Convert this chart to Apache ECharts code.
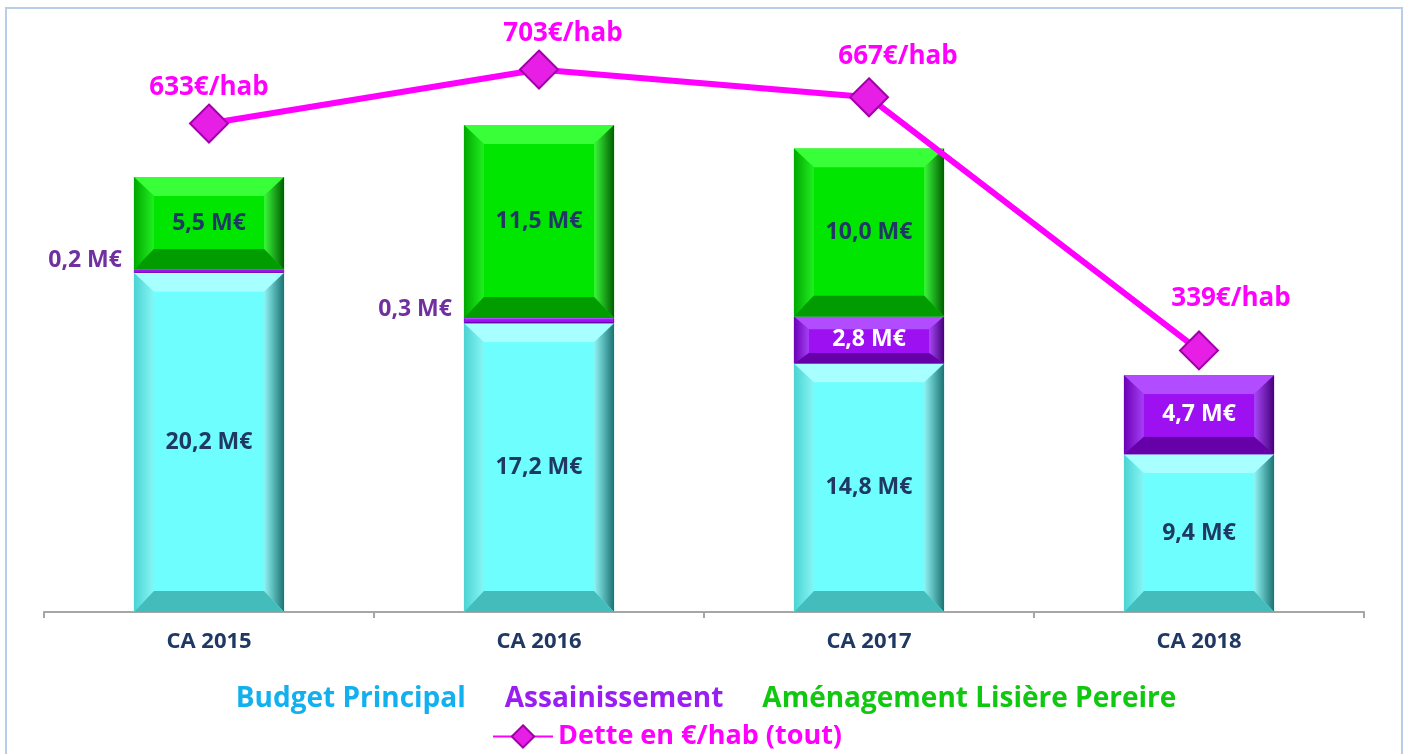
<!DOCTYPE html>
<html>
<head>
<meta charset="utf-8">
<script src="https://cdn.jsdelivr.net/npm/echarts@6/dist/echarts.min.js"></script>
<style>
html,body{margin:0;padding:0;background:#fff;}
#c{width:1407px;height:754px;}
</style>
</head>
<body>
<div id="c"></div>
<script>
// ---- data ----
const categories = ['CA 2015', 'CA 2016', 'CA 2017', 'CA 2018'];
const budgetPrincipal = [20.2, 17.2, 14.8, 9.4];
const assainissement = [0.2, 0.3, 2.8, 4.7];
const amenagement = [5.5, 11.5, 10.0, 0];
const detteParHab = [633, 703, 667, 339];
const seriesNames = ['Budget Principal', 'Assainissement', 'Aménagement Lisière Pereire', 'Dette en €/hab (tout)'];

// ---- styles ----
const FONT = '"Open Sans", "Noto Sans", sans-serif';
const NAVY = '#1f3864';
const palettes = {
  cyan:   {main:'#6ffefe', top:'#a8ffff', left:['#4cd2d2','#86f6f6'], right:['#8ff4f4','#1c7272'], bottom:'#44bcbc', label:NAVY, legend:'#12b0ef'},
  purple: {main:'#9c10f2', top:'#b14cff', left:['#6c00b4','#a440f6'], right:['#a848f8','#46007a'], bottom:'#6600a8', label:'#ffffff', legend:'#9a1df2'},
  green:  {main:'#00e600', top:'#38ff38', left:['#00a800','#22ee22'], right:['#3cf83c','#005e00'], bottom:'#009c00', label:NAVY, legend:'#11c811'}
};

function fmt(v){ return v.toFixed(1).replace('.', ',') + ' M€'; }

function buildStackData(values, below){
  return values.map((v, i) => {
    const base = below.reduce((s, arr) => s + arr[i], 0);
    return [i, base, base + v, v];
  });
}

function bevelRender(pal){
  return function(params, api){
    const v = api.value(3);
    if (!v) return null;
    const idx = api.value(0);
    const pBase = api.coord([idx, api.value(1)]);
    const pTop = api.coord([idx, api.value(2)]);
    const bw = api.size([1, 0])[0] * 0.455;
    const x0 = pBase[0] - bw / 2, x1 = x0 + bw;
    const y0 = pTop[1], y1 = pBase[1];
    const h = y1 - y0;
    const bs = Math.min(20, h * 0.32);
    const bt = Math.min(19, h * 0.28);
    const bb = Math.min(21, h * 0.22);
    const ix0 = x0 + bs, ix1 = x1 - bs, iy0 = y0 + bt, iy1 = y1 - bb;
    const children = [
      {type:'rect', shape:{x:x0, y:y0, width:bw, height:h}, style:{fill:pal.main}},
      {type:'polygon', shape:{points:[[x0,y0],[x1,y0],[ix1,iy0],[ix0,iy0]]}, style:{fill:pal.top}},
      {type:'polygon', shape:{points:[[x0,y0],[ix0,iy0],[ix0,iy1],[x0,y1]]},
        style:{fill:{type:'linear',x:0,y:0,x2:1,y2:0,colorStops:[{offset:0,color:pal.left[0]},{offset:1,color:pal.left[1]}]}}},
      {type:'polygon', shape:{points:[[x1,y0],[x1,y1],[ix1,iy1],[ix1,iy0]]},
        style:{fill:{type:'linear',x:0,y:0,x2:1,y2:0,colorStops:[{offset:0,color:pal.right[0]},{offset:1,color:pal.right[1]}]}}},
      {type:'polygon', shape:{points:[[x0,y1],[ix0,iy1],[ix1,iy1],[x1,y1]]}, style:{fill:pal.bottom}},
      {type:'rect', shape:{x:ix0, y:iy0, width:Math.max(0, ix1-ix0), height:Math.max(0, iy1-iy0)}, style:{fill:pal.main}}
    ];
    if (v >= 1) {
      children.push({type:'text', style:{text:fmt(v), x:pBase[0], y:(y0+y1)/2, align:'center', verticalAlign:'middle',
        fill:pal.label, font:'bold 23px ' + FONT}});
    } else {
      children.push({type:'text', style:{text:fmt(v), x:x0 - 12, y:y0 - 9, align:'right', verticalAlign:'middle',
        fill:'#7030a0', font:'bold 23px ' + FONT}});
    }
    return {type:'group', children};
  };
}

const lineLabelOffsets = [[0,0],[24,0],[29,-5],[32,-16]];

const chart = echarts.init(document.getElementById('c'));
chart.setOption({
  animation:false,
  graphic:[{type:'rect', shape:{x:6, y:8, width:1396, height:760}, style:{fill:'none', stroke:'#b8cde8', lineWidth:2}, silent:true}],
  grid:{left:44, right:43, top:41, bottom:142},
  legend:[
    {top:680, left:'center', itemWidth:0, itemGap:34, selectedMode:false,
     data:[
       {name:seriesNames[0], icon:'none', textStyle:{color:palettes.cyan.legend}},
       {name:seriesNames[1], icon:'none', textStyle:{color:palettes.purple.legend}},
       {name:seriesNames[2], icon:'none', textStyle:{color:palettes.green.legend}}
     ],
     textStyle:{fontFamily:FONT, fontWeight:'bold', fontSize:28}},
    {top:718, left:487, itemWidth:60, itemHeight:28, itemGap:4, selectedMode:false,
     data:[{name:seriesNames[3], textStyle:{color:'#ff00ff'}}],
     textStyle:{fontFamily:FONT, fontWeight:'bold', fontSize:27}}
  ],
  xAxis:{type:'category', data:categories,
    axisLine:{lineStyle:{color:'#a6a6a6', width:2}},
    axisTick:{show:true, length:6, lineStyle:{color:'#a6a6a6', width:2}},
    axisLabel:{color:NAVY, fontFamily:FONT, fontWeight:'bold', fontSize:22, margin:19}},
  yAxis:[
    {type:'value', min:0, max:34, show:false, splitLine:{show:false}},
    {type:'value', min:0, max:740, show:false, splitLine:{show:false}}
  ],
  series:[
    {name:seriesNames[0], type:'custom', renderItem:bevelRender(palettes.cyan), itemStyle:{color:palettes.cyan.main},
     encode:{x:0, y:[1,2]}, data:buildStackData(budgetPrincipal, [])},
    {name:seriesNames[1], type:'custom', renderItem:bevelRender(palettes.purple), itemStyle:{color:palettes.purple.main},
     encode:{x:0, y:[1,2]}, data:buildStackData(assainissement, [budgetPrincipal])},
    {name:seriesNames[2], type:'custom', renderItem:bevelRender(palettes.green), itemStyle:{color:palettes.green.main},
     encode:{x:0, y:[1,2]}, data:buildStackData(amenagement, [budgetPrincipal, assainissement])},
    {name:seriesNames[3], type:'line', yAxisIndex:1, z:10,
     data:detteParHab.map((v, i) => ({value:v, label:{offset:lineLabelOffsets[i]}})),
     lineStyle:{color:'#ff00ff', width:6},
     symbol:'diamond', symbolSize:38,
     itemStyle:{color:'#e61ee6', borderColor:'#a000a6', borderWidth:2},
     label:{show:true, position:'top', distance:3, color:'#ff00ff', fontFamily:FONT, fontWeight:'bold', fontSize:26,
       formatter:(p) => p.value + '€/hab'}}
  ]
});
</script>
</body>
</html>
